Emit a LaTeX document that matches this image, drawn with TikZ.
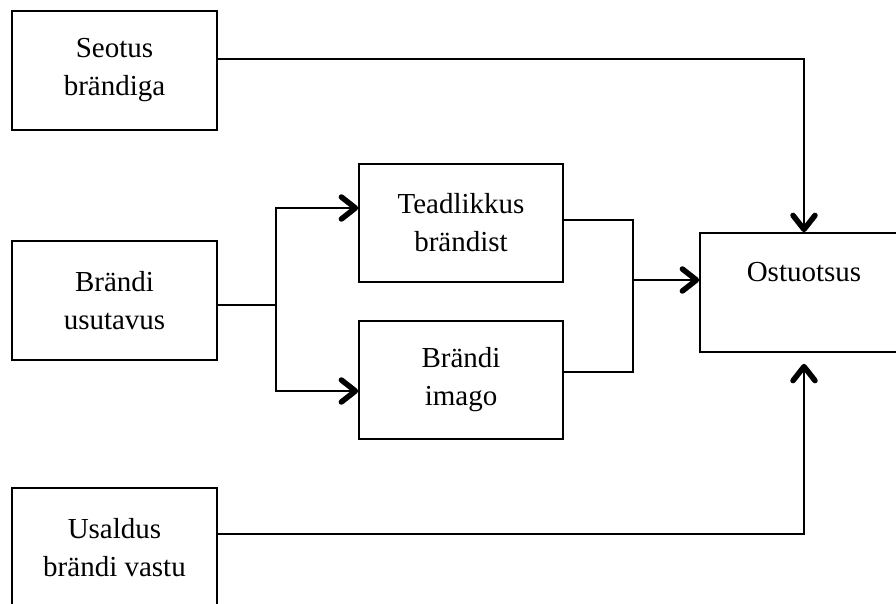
\documentclass[tikz,border=0pt]{standalone}
\usepackage{fontspec}
\setmainfont{Liberation Serif}
\usetikzlibrary{arrows.meta}

\begin{document}
\begin{tikzpicture}[x=1pt, y=-1pt,
		box/.style={draw, line width=1.7pt, minimum width=205pt, minimum height=119pt,
			inner sep=0pt, align=center, font=\fontsize{29}{38}\selectfont},
		conn/.style={line width=2.9pt},
		arr/.style={conn, -{Straight Barb[length=14pt, width=22pt, line width=5.5pt, round]}}]
		\useasboundingbox (0,0) rectangle (896,604);
		\clip (0,0) rectangle (896,604);
		
		% Left column
		\node[box] (seo) at (114.5,70.5) {Seotus\\brändiga};
		\node[box] (usu) at (114.5,300.5) {Brändi\\usutavus};
		\node[box] (usa) at (114.5,547.5) {Usaldus\\brändi vastu};
		
		% Middle column
		\node[box, minimum width=204pt, minimum height=118pt] (tea) at (461,223) {Teadlikkus\\brändist};
		\node[box, minimum width=204pt, minimum height=118pt] (ima) at (461,380) {Brändi\\imago};
		
		% Decision
		\node[box, minimum width=208pt,
			label={[font=\fontsize{29}{38}\selectfont, yshift=20pt]center:Ostuotsus}] (ost) at (804,292.5) {};
		
		% Split and merge points
		\coordinate (split) at (276,305);
		\coordinate (merge) at (633,280);
		
		\draw[conn] ([yshift=-4.5pt]usu.east) -- (split);
		\draw[arr] (split) |- ([yshift=15pt]tea.west);
		\draw[arr] (split) |- ([yshift=-11pt]ima.west);
		
		\draw[conn] ([yshift=3pt]tea.east) -| (merge);
		\draw[conn] ([yshift=8pt]ima.east) -| (merge);
		\draw[arr] (merge) -- ([yshift=12.5pt]ost.west);
		
		% Direct influences
		\draw[arr] ([yshift=11.5pt]seo.east) -| (ost.north);
		\draw[arr] ([yshift=13.5pt]usa.east) -| ([yshift=-11pt]ost.south);
	\end{tikzpicture}
\end{document}
